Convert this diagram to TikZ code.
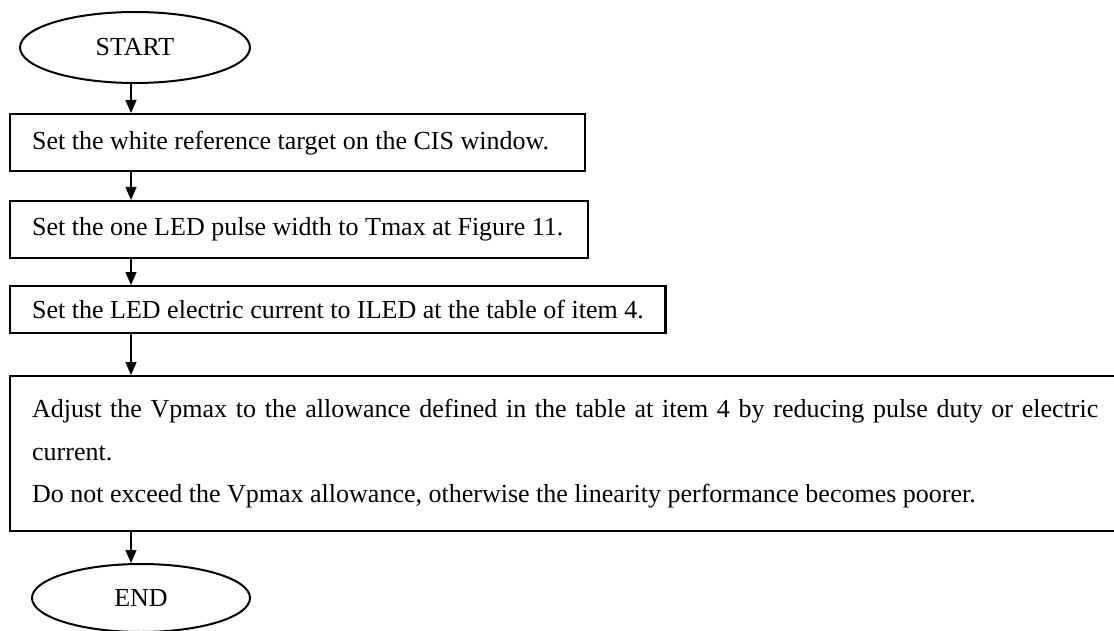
\documentclass[tikz,border=0pt]{standalone}
\usepackage{fontspec}
\setmainfont{Liberation Serif}
\usetikzlibrary{shapes.geometric,arrows.meta}
\hyphenpenalty=10000
\exhyphenpenalty=10000
\begin{document}
\begin{tikzpicture}[x=1pt,y=1pt]
  \tikzstyle{every node}=[font=\fontsize{26}{42.5}\selectfont]
  \tikzstyle{term}=[ellipse,draw,line width=2pt,inner sep=0pt,font=\fontsize{26}{30}\selectfont]
  \tikzstyle{stepbox}=[rectangle,draw,line width=2.4pt,anchor=north west,inner xsep=22pt,inner ysep=0pt]
  \tikzstyle{flow}=[-{Triangle[length=13pt,width=11pt]},line width=1.3pt]
  \useasboundingbox (0,0) rectangle (1114,-631);
  \coordinate (axis) at (131,0);
  \node[term,minimum width=230,minimum height=71] (start) at (135,-47.5) {START};
  \node[stepbox,minimum height=57] (white) at (9,-113)
    {\makebox[531pt][l]{Set the white reference target on the CIS window.}};
  \node[stepbox,minimum height=57] (pulse) at (9,-200)
    {\makebox[534pt][l]{Set the one LED pulse width to Tmax at Figure 11.}};
  \node[stepbox,minimum height=47] (current) at (9,-285)
    {Set the LED electric current to ILED at the table of item 4.};
  \node[stepbox,text width=1066,align=justify,minimum height=155] (adjust) at (9,-375)
    {Adjust the Vpmax to the allowance defined in the table at item 4 by reducing pulse duty or electric current.\\
     Do not exceed the Vpmax allowance, otherwise the linearity performance becomes poorer.};
  \node[term,minimum width=218,minimum height=68] (end) at (141,-598) {END};
  % connectors
  \draw[flow] (start.south -| axis) -- (white.north -| axis);
  \draw[flow] (white.south -| axis) -- (pulse.north -| axis);
  \draw[flow] (pulse.south -| axis) -- (current.north -| axis);
  \draw[flow] (current.south -| axis) -- (adjust.north -| axis);
  \draw[flow] (adjust.south -| axis) -- (end.north -| axis);
\end{tikzpicture}
\end{document}
